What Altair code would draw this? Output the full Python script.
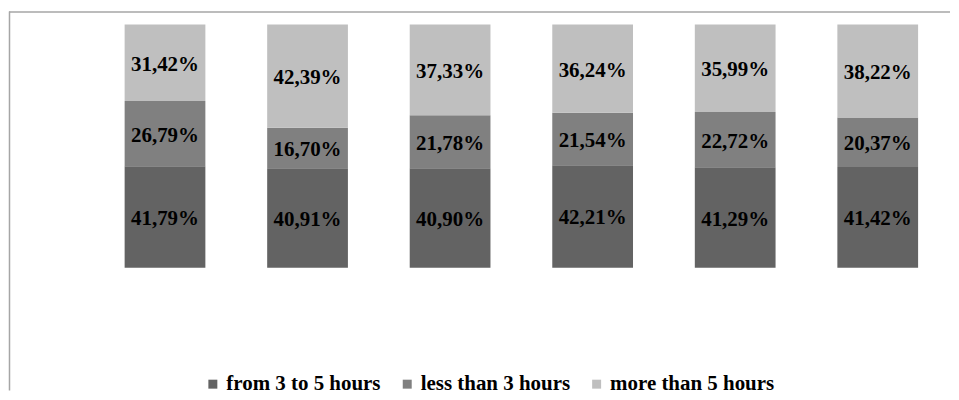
import altair as alt
import pandas as pd

groups = ["1", "2", "3", "4", "5", "6"]
series = ["from 3 to 5 hours", "less than 3 hours", "more than 5 hours"]
from_3_to_5 = [41.79, 40.91, 40.90, 42.21, 41.29, 41.42]
less_than_3 = [26.79, 16.70, 21.78, 21.54, 22.72, 20.37]
more_than_5 = [31.42, 42.39, 37.33, 36.24, 35.99, 38.22]
colors = ["#636363", "#808080", "#bfbfbf"]

FONT = "'Liberation Serif', 'Times New Roman', 'DejaVu Serif', serif"

rows = []
for i, g in enumerate(groups):
    for k, (s, vals) in enumerate(zip(series, [from_3_to_5, less_than_3, more_than_5])):
        rows.append({"group": g, "series": s, "order": k, "value": vals[i]})
df = pd.DataFrame(rows)

W, H = 943, 380

base = alt.Chart(df).transform_stack(
    stack="value",
    groupby=["group"],
    as_=["v0", "v1"],
    sort=[alt.SortField("order", order="ascending")],
).transform_calculate(
    mid="(datum.v0 + datum.v1) / 2",
    label="replace(format(datum.value, '.2f'), '.', ',') + '%'",
)

xenc = alt.X(
    "group:N",
    sort=groups,
    axis=None,
    scale=alt.Scale(paddingInner=0.4336, paddingOuter=0.514, align=0.7823),
)
yscale = alt.Scale(domain=[-50.41, 105.33], nice=False, zero=False)

bars = base.mark_bar().encode(
    x=xenc,
    y=alt.Y("v0:Q", scale=yscale, axis=None),
    y2="v1:Q",
    color=alt.Color(
        "series:N",
        scale=alt.Scale(domain=series, range=colors),
        legend=alt.Legend(
            orient="none",
            legendX=193,
            legendY=363,
            direction="horizontal",
            title=None,
            symbolType="square",
            symbolSize=81,
            symbolStrokeWidth=0,
            labelFont=FONT,
            labelFontWeight="bold",
            labelFontSize=21,
            labelColor="black",
            labelOffset=3,
            labelLimit=400,
            columnPadding=16,
        ),
    ),
)

labels = base.mark_text(
    font=FONT,
    fontWeight="bold",
    fontSize=21,
    color="black",
    baseline="middle",
    dy=2,
).encode(
    x=xenc,
    y=alt.Y("mid:Q", scale=yscale, axis=None),
    text="label:N",
)

frame_df = pd.DataFrame({"frame": [0]})
top_rule = alt.Chart(frame_df).mark_rule(color="#a6a6a6", strokeWidth=1.5).encode(
    x=alt.value(-1), x2=alt.value(W), y=alt.value(0.5)
)
left_rule = alt.Chart(frame_df).mark_rule(color="#a6a6a6", strokeWidth=1.5).encode(
    x=alt.value(-0.5), y=alt.value(0), y2=alt.value(H)
)

chart = alt.layer(bars, labels, top_rule, left_rule).properties(
    width=W,
    height=H,
    padding={"left": 0, "top": 2, "right": 0, "bottom": 0},
    background="white",
).configure_view(stroke=None)

chart.save("out.html", embed_options={"renderer": "svg", "actions": False})
